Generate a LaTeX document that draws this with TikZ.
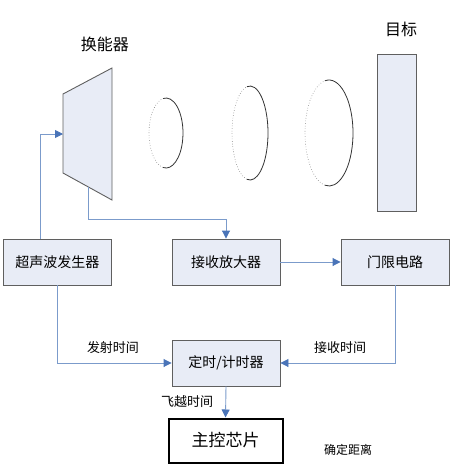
\documentclass[tikz,border=0pt]{standalone}
\usepackage{fontspec}
\usepackage{tikz}
\usetikzlibrary{arrows.meta}
\usetikzlibrary{calc}
\newfontfamily\cjk{Noto Sans CJK SC}
\definecolor{boxfill}{HTML}{E8ECF6}
\definecolor{boxline}{HTML}{5F5F5F}
\definecolor{wire}{HTML}{7B9BCB}
\definecolor{tip}{HTML}{4A74B8}
\tikzstyle{arrow} = [wire, line width=0.9pt, -{Triangle[length=8pt,width=8pt,color=tip]}]
\tikzstyle{block} = [draw=boxline, line width=0.9pt, fill=boxfill, minimum width=108pt, minimum height=46pt, font=\cjk\fontsize{14}{14}\selectfont]

\begin{document}
\begin{tikzpicture}[x=1pt,y=-1pt]
			\useasboundingbox (0,0) rectangle (463,467);
			% transducer and target
			\draw[boxline, line width=0.9pt, fill=boxfill] (63,94) -- (112,68) -- (112,200) -- (63,173) -- cycle;
			\coordinate (tin) at (63,134);
			\coordinate (tout) at (88,187);
			\node (trans) at (105,44) {\cjk\fontsize{16}{16}\selectfont 换能器};
			\node (target) [draw=boxline, line width=0.9pt, fill=boxfill,
			minimum width=39pt,
			minimum height=157pt,
			inner sep=0pt] at (396.5,132.5) {};
			\node (tlabel) at (401,29) {\cjk\fontsize{16}{16}\selectfont 目标};
			
			% wave fronts
			\foreach \cx/\rx/\ry in {166/17/35, 250/18/47, 329/24/53}{
				\draw[black!80, line width=0.8pt] (\cx,133) ++({\rx*cos(100)},{\ry*sin(100)}) arc[start angle=100, end angle=-100, x radius=\rx, y radius=\ry];
				\draw[gray, line width=0.6pt, dotted] (\cx,133) ++({\rx*cos(100)},{\ry*sin(100)}) arc[start angle=100, end angle=260, x radius=\rx, y radius=\ry];
			}
			
			% blocks
			\node (gen) [block] at (57.5,262) {超声波发生器};
			\node (amp) [block] at (226,262) {接收放大器};
			\node (gate) [block] at (395,262) {门限电路};
			\node (timer) [block] at (226,363) {定时/计时器};
			\node (mcu) [draw=black, line width=2pt, fill=white,
			minimum width=114pt,
			minimum height=44pt,
			font=\cjk\fontsize{17}{17}\selectfont] at (225.5,440.5) {主控芯片};
			
			% connections
			\draw[arrow] ([xshift=-17.5pt]gen.north) |- (tin);
			\draw[arrow] (tout) -- (tout |- 0,219) -| (amp.north);
			\draw[arrow] (amp.east) -- (gate.west);
			\draw[arrow] (gen.south) |- (timer.west);
			\draw[arrow] (gate.south) |- (timer.east);
			\draw[arrow] (timer.south) -- (mcu.north);
			
			\node[font=\cjk\fontsize{13}{13}\selectfont] (tx) at (113,348) {发射时间};
			\node[font=\cjk\fontsize{13}{13}\selectfont] (rx) at (340,348) {接收时间};
			\node[font=\cjk\fontsize{13}{13}\selectfont] (fly) at (187,402) {飞越时间};
			\node[font=\cjk\fontsize{12}{12}\selectfont] (dist) at (348,450) {确定距离};
		\end{tikzpicture}
\end{document}
